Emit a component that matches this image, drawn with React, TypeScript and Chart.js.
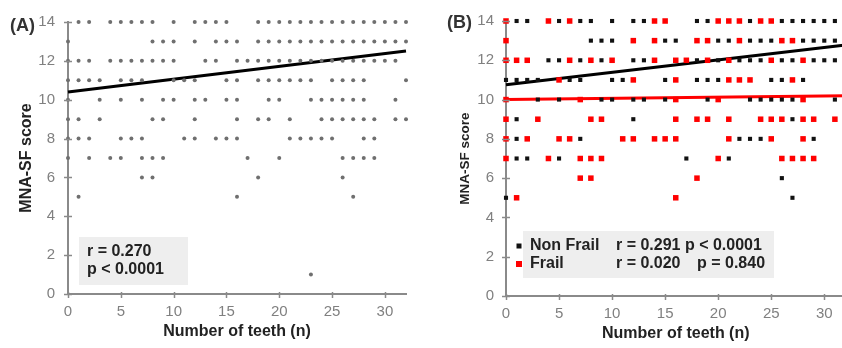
import React, { useEffect, useRef } from "react";
import { Chart, registerables } from "chart.js";

Chart.register(...registerables);

// MNA-SF score rows (y values) and, for each row, the number of teeth (x values)
const scoreRows = [14, 13, 12, 11, 10, 9, 8, 7, 6, 5, 1];

// Panel A: all participants
const teethAll: number[][] = [
  [1, 2, 4, 5, 6, 7, 8, 10, 12, 13, 14, 15, 18, 19, 20, 21, 22, 23, 24, 25, 26, 27, 28, 29, 30, 31, 32],
  [0, 8, 9, 10, 12, 14, 15, 16, 18, 19, 20, 21, 22, 23, 24, 25, 26, 27, 28, 29, 30, 31, 32],
  [0, 1, 2, 4, 5, 6, 7, 8, 9, 10, 13, 14, 16, 17, 18, 19, 20, 21, 22, 23, 24, 25, 26, 27, 28, 29, 30, 31],
  [0, 1, 2, 3, 5, 6, 7, 10, 11, 12, 15, 16, 18, 19, 20, 21, 22, 23, 25, 26, 27, 28, 32],
  [0, 3, 5, 7, 9, 10, 12, 13, 15, 16, 19, 20, 23, 24, 25, 26, 27, 28, 31],
  [0, 1, 3, 8, 9, 12, 16, 18, 19, 21, 24, 25, 26, 27, 28, 29, 31, 32],
  [0, 1, 2, 5, 6, 7, 11, 12, 14, 15, 16, 21, 22, 23, 24, 25, 28, 29],
  [0, 2, 4, 5, 7, 8, 9, 17, 20, 26, 27, 28, 29],
  [7, 8, 18, 26],
  [1, 16, 27],
  [23],
];

// Panel B: non frail participants
const teethNonFrail: number[][] = [
  [1, 2, 5, 7, 8, 10, 12, 13, 18, 19, 23, 26, 27, 28, 29, 30, 31, 32],
  [8, 9, 10, 15, 16, 20, 21, 23, 24, 25, 28, 29, 30, 31, 32],
  [4, 5, 7, 9, 12, 13, 18, 20, 22, 23, 24, 26, 27, 29, 30, 31],
  [0, 1, 2, 3, 6, 7, 10, 11, 15, 18, 19, 20, 25, 26, 28, 32],
  [3, 5, 9, 10, 12, 13, 15, 19, 23, 24, 25, 26, 27, 31],
  [1, 12, 27],
  [1, 7, 22, 23, 24, 29],
  [1, 2, 5, 17, 21],
  [26],
  [0, 27],
  [],
];

// Panel B: frail participants
const teethFrail: number[][] = [
  [0, 4, 6, 14, 15, 20, 21, 22, 24, 25],
  [0, 12, 14, 18, 19, 22, 26, 27],
  [0, 1, 2, 6, 8, 10, 14, 16, 17, 19, 21, 25, 28],
  [5, 12, 16, 21, 22, 23, 27],
  [0, 7, 16, 20, 28],
  [0, 3, 8, 9, 16, 18, 19, 21, 24, 25, 26, 28, 29, 31, 32],
  [0, 2, 5, 6, 11, 12, 14, 15, 16, 21, 25, 28],
  [0, 4, 7, 8, 9, 20, 26, 27, 28, 29],
  [7, 8, 18],
  [1, 16],
  [],
];

// Regression lines (intercept, slope)
const fitAll = [10.4, 0.066];
const fitNonFrail = [10.75, 0.0635];
const fitFrail = [10.0, 0.006];

const xMin = 0;
const xMax = 32;
const yMin = 0;
const yMax = 14;

const statsA = ["r = 0.270", "p < 0.0001"];
const legendLabels = ["Non Frail", "Frail"];
const legendStatsR = ["r = 0.291 p < 0.0001", "r = 0.020"];
const legendStatsP = ["", "p = 0.840"];

const FONT = '"Liberation Sans", Arial, Helvetica, sans-serif';

function toPoints(rows: number[][]) {
  const pts: { x: number; y: number }[] = [];
  rows.forEach((xs, i) => xs.forEach((x) => pts.push({ x, y: scoreRows[i] })));
  return pts;
}

function fitLine(fit: number[]) {
  return [
    { x: xMin, y: fit[0] + fit[1] * xMin },
    { x: xMax, y: fit[0] + fit[1] * xMax },
  ];
}

function makeDecor(kind: "A" | "B", yTitleSize: number) {
  return {
    id: "decor" + kind,
    afterDraw(chart: any) {
      const ctx = chart.ctx;
      const ca = chart.chartArea;
      const xs = chart.scales.x;
      const ys = chart.scales.y;
      ctx.save();
      // tick marks crossing the axes
      ctx.strokeStyle = "#8a8a8a";
      ctx.lineWidth = 1.5;
      ys.ticks.forEach((t: any) => {
        const py = Math.round(ys.getPixelForValue(t.value)) + 0.5;
        ctx.beginPath();
        ctx.moveTo(ca.left - 4, py);
        ctx.lineTo(ca.left + 4, py);
        ctx.stroke();
      });
      xs.ticks.forEach((t: any) => {
        const px = Math.round(xs.getPixelForValue(t.value)) + 0.5;
        ctx.beginPath();
        ctx.moveTo(px, ca.bottom - 2);
        ctx.lineTo(px, ca.bottom + 4);
        ctx.stroke();
      });
      // axis titles
      ctx.fillStyle = "#222";
      ctx.textAlign = "center";
      ctx.textBaseline = "middle";
      ctx.font = `bold 16px ${FONT}`;
      ctx.fillText("Number of teeth (n)", (ca.left + (kind === "A" ? ca.right : ca.left + 339.5)) / 2, ca.bottom + 38);
      ctx.save();
      ctx.translate(ca.left - 41, (ca.top + ca.bottom) / 2);
      ctx.rotate(-Math.PI / 2);
      ctx.font = `bold ${yTitleSize}px ${FONT}`;
      ctx.fillText("MNA-SF score", 0, 0);
      ctx.restore();
      // panel label
      ctx.textAlign = "left";
      ctx.font = `bold 18px ${FONT}`;
      ctx.fillStyle = "#333";
      ctx.fillText(kind === "A" ? "(A)" : "(B)", ca.left - (kind === "A" ? 58 : 59), ca.top + (kind === "A" ? 4 : 2));
      if (kind === "A") {
        ctx.fillStyle = "#eeeeee";
        ctx.fillRect(ca.left + 11, ca.bottom - 57, 109, 48);
        ctx.fillStyle = "#222";
        ctx.font = `bold 16px ${FONT}`;
        ctx.fillText(statsA[0], ca.left + 19, ca.bottom - 42);
        ctx.fillText(statsA[1], ca.left + 19, ca.bottom - 24);
      } else {
        ctx.fillStyle = "#eeeeee";
        ctx.fillRect(ca.left + 17, ca.bottom - 65, 251, 47);
        const rowsY = [ca.bottom - 50, ca.bottom - 32];
        // markers
        ctx.fillStyle = "#111";
        ctx.fillRect(ca.left + 13 - 2.5, rowsY[0] - 2.5, 5, 5);
        ctx.fillStyle = "#ff0000";
        ctx.fillRect(ca.left + 13 - 3, rowsY[1] - 3, 6, 6);
        ctx.fillStyle = "#222";
        ctx.font = `bold 16px ${FONT}`;
        for (let i = 0; i < 2; i++) {
          ctx.fillText(legendLabels[i], ca.left + 24, rowsY[i]);
          ctx.fillText(legendStatsR[i], ca.left + 110, rowsY[i]);
          if (legendStatsP[i]) ctx.fillText(legendStatsP[i], ca.left + 191, rowsY[i]);
        }
      }
      ctx.restore();
    },
  };
}

function scales(yWidth: number, xHeight: number, yPad: number) {
  return {
    x: {
      type: "linear" as const,
      min: xMin,
      max: xMax,
      afterFit: (s: any) => {
        s.height = xHeight;
      },
      grid: { display: true, drawOnChartArea: false, drawTicks: false },
      border: { display: true, color: "#8a8a8a", width: 2 },
      ticks: {
        stepSize: 5,
        includeBounds: false,
        padding: 9,
        color: "#808080",
        font: { family: FONT, size: 15 },
      },
    },
    y: {
      type: "linear" as const,
      min: yMin,
      max: yMax,
      afterFit: (s: any) => {
        s.width = yWidth;
      },
      grid: { display: true, drawOnChartArea: false, drawTicks: false },
      border: { display: true, color: "#8a8a8a", width: 2 },
      ticks: {
        stepSize: 1,
        padding: yPad,
        color: "#808080",
        font: { family: FONT, size: 15 },
        callback: (v: any) => (Number(v) % 2 === 0 ? String(v) : ""),
      },
    },
  };
}

function PanelA() {
  const ref = useRef<HTMLCanvasElement | null>(null);
  useEffect(() => {
    if (!ref.current) return;
    const chart = new Chart(ref.current, {
      type: "scatter",
      data: {
        datasets: [
          {
            data: toPoints(teethAll),
            pointStyle: "circle",
            pointRadius: 2,
            pointBorderWidth: 0,
            backgroundColor: "#6f6f6f",
            borderColor: "#6f6f6f",
            clip: false as any,
          },
          {
            type: "line" as any,
            data: fitLine(fitAll),
            borderColor: "#000",
            borderWidth: 3,
            pointRadius: 0,
            fill: false,
            clip: false as any,
          },
        ],
      },
      options: {
        responsive: false,
        animation: false,
        layout: { padding: { left: 0, right: 14, top: 16, bottom: 0 } },
        plugins: { legend: { display: false }, tooltip: { enabled: false } },
        scales: scales(68, 54, 13) as any,
      },
      plugins: [makeDecor("A", 16)],
    });
    return () => chart.destroy();
  }, []);
  return (
    <canvas
      ref={ref}
      width={420}
      height={348}
      style={{ position: "absolute", left: 0, top: 0, width: 420, height: 348 }}
    />
  );
}

function PanelB() {
  const ref = useRef<HTMLCanvasElement | null>(null);
  useEffect(() => {
    if (!ref.current) return;
    const chart = new Chart(ref.current, {
      type: "scatter",
      data: {
        datasets: [
          {
            data: toPoints(teethNonFrail),
            pointStyle: "rect",
            pointRadius: 2.9,
            pointBorderWidth: 0,
            backgroundColor: "#111",
            borderColor: "#111",
            clip: false as any,
          },
          {
            data: toPoints(teethFrail),
            pointStyle: "rect",
            pointRadius: 3.9,
            pointBorderWidth: 0,
            backgroundColor: "#ff0000",
            borderColor: "#ff0000",
            clip: false as any,
          },
          {
            type: "line" as any,
            data: fitLine(fitNonFrail),
            borderColor: "#000",
            borderWidth: 3,
            pointRadius: 0,
            fill: false,
            clip: false as any,
          },
          {
            type: "line" as any,
            data: fitLine(fitFrail),
            borderColor: "#ff0000",
            borderWidth: 3,
            pointRadius: 0,
            fill: false,
            clip: false as any,
          },
        ],
      },
      options: {
        responsive: false,
        animation: false,
        layout: { padding: { left: 0, right: 6.5, top: 17, bottom: 0 } },
        plugins: { legend: { display: false }, tooltip: { enabled: false } },
        scales: scales(86, 52, 12) as any,
      },
      plugins: [makeDecor("B", 13.5)],
    });
    return () => chart.destroy();
  }, []);
  return (
    <canvas
      ref={ref}
      width={432}
      height={348}
      style={{ position: "absolute", left: 420, top: 0, width: 432, height: 348 }}
    />
  );
}

export default function App() {
  return (
    <div
      style={{
        position: "absolute",
        left: 0,
        top: 0,
        width: 842,
        height: 348,
        overflow: "hidden",
        background: "#fff",
      }}
    >
      <PanelA />
      <PanelB />
    </div>
  );
}
